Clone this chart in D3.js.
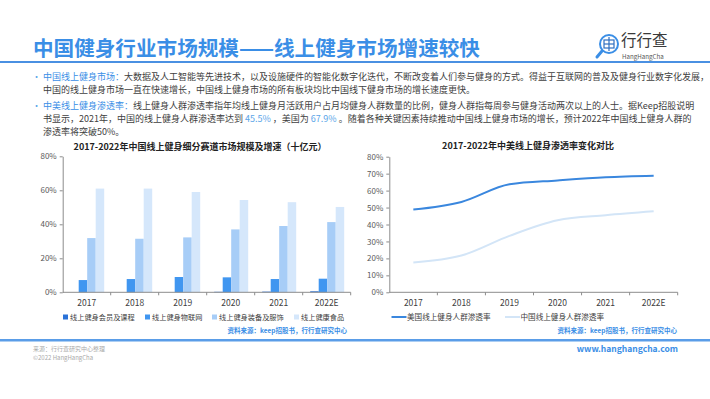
<!DOCTYPE html>
<html>
<head>
<meta charset="utf-8">
<script src="https://cdn.jsdelivr.net/npm/d3@7"></script>
<style>
  body { margin: 0; background: #fff; }
  svg { font-family: "Noto Sans CJK SC", "Noto Sans", sans-serif; }
</style>
</head>
<body>
<script>
// 数据
const years = ["2017", "2018", "2019", "2020", "2021", "2022E"];
const seriesNames = ["线上健身会员及课程", "线上健身物联网", "线上健身装备及服饰", "线上健康食品"];
const memberCourse = [0, 0, 0, 0.3, 0.4, 0.6];
const iot = [7.2, 7.8, 9.0, 8.8, 7.8, 8.0];
const equipment = [31.9, 31.5, 32.3, 37.0, 39.0, 41.3];
const food = [61.0, 61.0, 59.0, 54.3, 53.0, 50.2];
const barTicks = [0, 20, 40, 60, 80];

const lineNames = ["美国线上健身人群渗透率", "中国线上健身人群渗透率"];
const usRate = [48.8, 53.3, 63.7, 66.0, 67.9, 68.8];
const cnRate = [17.6, 21.7, 33.3, 42.5, 45.5, 47.8];
const lineTicks = [0, 10, 20, 30, 40, 50, 60, 70, 80];

const width = 710, height = 399;
const blue = "#3a8ee6";
const textDark = "#404040";
const axisColor = "#8c8c8c";

const svg = d3.select("body").append("svg")
  .attr("width", width).attr("height", height);

svg.append("rect").attr("width", width).attr("height", height).attr("fill", "#fff");

// 标题
svg.append("text")
  .attr("x", 33).attr("y", 56)
  .attr("font-size", 20.6).attr("font-weight", "bold").attr("fill", blue)
  .text("中国健身行业市场规模——线上健身市场增速较快");

svg.append("rect").attr("x", 0).attr("y", 61).attr("width", width).attr("height", 2).attr("fill", "#4a90e2");

// logo
const logo = svg.append("g");
logo.append("circle").attr("cx", 609).attr("cy", 44).attr("r", 9)
  .attr("fill", "none").attr("stroke", blue).attr("stroke-width", 2);
logo.append("line").attr("x1", 602).attr("y1", 51).attr("x2", 597).attr("y2", 57)
  .attr("stroke", blue).attr("stroke-width", 3).attr("stroke-linecap", "round");
logo.append("rect").attr("x", 604).attr("y", 40).attr("width", 10).attr("height", 8)
  .attr("fill", "none").attr("stroke", "#2f6fc0").attr("stroke-width", 1.2);
logo.append("line").attr("x1", 609).attr("y1", 37).attr("x2", 609).attr("y2", 51)
  .attr("stroke", "#2f6fc0").attr("stroke-width", 1.2);
logo.append("line").attr("x1", 604).attr("y1", 44).attr("x2", 614).attr("y2", 44)
  .attr("stroke", "#2f6fc0").attr("stroke-width", 1.2);
logo.append("text").attr("x", 621).attr("y", 46)
  .attr("font-size", 15.5).attr("fill", "#3a3a3a").text("行行查");
logo.append("text").attr("x", 622).attr("y", 59)
  .attr("font-size", 6.2).attr("fill", "#555").text("HangHangCha");

// 文字说明
const paragraphs = [
  { y: 80, parts: [["中国线上健身市场：", blue], ["大数据及人工智能等先进技术，以及设施硬件的智能化数字化迭代，不断改变着人们参与健身的方式。得益于互联网的普及及健身行业数字化发展，", textDark]], bullet: true },
  { y: 93, parts: [["中国的线上健身市场一直在快速增长，中国线上健身市场的所有板块均比中国线下健身市场的增长速度更快。", textDark]] },
  { y: 109, parts: [["中美线上健身渗透率：", blue], ["线上健身人群渗透率指年均线上健身月活跃用户占月均健身人群数量的比例，健身人群指每周参与健身活动两次以上的人士。据Keep招股说明", textDark]], bullet: true },
  { y: 122, parts: [["书显示，2021年，中国的线上健身人群渗透率达到 ", textDark], ["45.5%", "#5aa5e8"], [" ，美国为 ", textDark], ["67.9%", "#5aa5e8"], [" 。随着各种关键因素持续推动中国线上健身市场的增长，预计2022年中国线上健身人群的", textDark]] },
  { y: 135, parts: [["渗透率将突破50%。", textDark]] }
];

paragraphs.forEach(p => {
  if (p.bullet) {
    svg.append("text").attr("x", 32).attr("y", p.y)
      .attr("font-size", 9).attr("fill", "#5aa5e8").text("•");
  }
  const t = svg.append("text").attr("x", 43).attr("y", p.y).attr("font-size", 9);
  p.parts.forEach(([s, c]) => t.append("tspan").attr("fill", c).text(s));
});

// ---------- 左图：柱状图 ----------
const left = svg.append("g");
left.append("text")
  .attr("x", 200).attr("y", 150).attr("text-anchor", "middle")
  .attr("font-size", 9).attr("font-weight", "bold").attr("fill", "#222")
  .text("2017-2022年中国线上健身细分赛道市场规模及增速（十亿元）");

const xBar = d3.scaleBand().domain(years).range([62.7, 350.7]);
const xSub = d3.scaleBand().domain(seriesNames).range([7.5, 41.5]);
const yBar = d3.scaleLinear().domain([0, 80]).range([292.3, 156.3]);
const barColors = d3.scaleOrdinal().domain(seriesNames)
  .range(["#2a72d8", "#4096f0", "#a7cdf7", "#d5e7fb"]);

const barSeries = [memberCourse, iot, equipment, food];
const barData = [];
years.forEach((yr, i) => {
  seriesNames.forEach((name, j) => {
    barData.push({ year: yr, name: name, value: barSeries[j][i] });
  });
});

left.selectAll("rect.bar")
  .data(barData)
  .enter()
  .append("rect")
  .attr("class", "bar")
  .attr("x", d => xBar(d.year) + xSub(d.name))
  .attr("width", xSub.bandwidth())
  .attr("y", d => yBar(d.value))
  .attr("height", d => yBar(0) - yBar(d.value))
  .attr("fill", d => barColors(d.name));

left.append("g")
  .attr("transform", `translate(${xBar.range()[0]},0)`)
  .call(d3.axisLeft(yBar).tickValues(barTicks).tickFormat(d => d + "%").tickSize(3).tickSizeOuter(0));

// x 轴
const xAxisL = left.append("g");
xAxisL.append("line")
  .attr("x1", xBar.range()[0]).attr("x2", xBar.range()[1])
  .attr("y1", yBar(0)).attr("y2", yBar(0));
xAxisL.selectAll("line.tick")
  .data(years)
  .enter()
  .append("line")
  .attr("class", "tick")
  .attr("x1", d => xBar(d) + xBar.bandwidth()).attr("x2", d => xBar(d) + xBar.bandwidth())
  .attr("y1", yBar(0)).attr("y2", yBar(0) + 3);
xAxisL.selectAll("line").attr("stroke", axisColor).attr("stroke-width", 1);
xAxisL.selectAll("text")
  .data(years)
  .enter()
  .append("text")
  .attr("x", d => xBar(d) + xBar.bandwidth() / 2)
  .attr("y", 306)
  .attr("text-anchor", "middle")
  .attr("font-size", 8.5).attr("fill", textDark)
  .text(d => d);

// 图例
const legendXL = [63, 145, 212, 294];
const legL = left.selectAll("g.leg")
  .data(seriesNames)
  .enter()
  .append("g")
  .attr("class", "leg")
  .attr("transform", (d, i) => `translate(${legendXL[i]},317)`);
legL.append("rect").attr("x", 0).attr("y", -2.5).attr("width", 5).attr("height", 5)
  .attr("fill", d => barColors(d));
legL.append("text").attr("x", 7).attr("y", 2.6)
  .attr("font-size", 7.2).attr("fill", textDark).text(d => d);

left.append("text")
  .attr("x", 347).attr("y", 333).attr("text-anchor", "end")
  .attr("font-size", 6.5).attr("font-weight", "bold").attr("fill", blue)
  .text("资料来源：keep招股书，行行查研究中心");

// ---------- 右图：折线图 ----------
const right = svg.append("g");
right.append("text")
  .attr("x", 528).attr("y", 149).attr("text-anchor", "middle")
  .attr("font-size", 9).attr("font-weight", "bold").attr("fill", "#222")
  .text("2017-2022年中美线上健身渗透率变化对比");

const xLine = d3.scaleBand().domain(years).range([389.3, 677.7]);
const yLine = d3.scaleLinear().domain([0, 80]).range([292.3, 156.7]);
const lineColors = d3.scaleOrdinal().domain(lineNames).range(["#3a87de", "#d3e5f7"]);

right.append("g")
  .attr("transform", `translate(${xLine.range()[0]},0)`)
  .call(d3.axisLeft(yLine).tickValues(lineTicks).tickFormat(d => d + "%").tickSize(3).tickSizeOuter(0));

const xAxisR = right.append("g");
xAxisR.append("line")
  .attr("x1", xLine.range()[0]).attr("x2", xLine.range()[1])
  .attr("y1", yLine(0)).attr("y2", yLine(0));
xAxisR.selectAll("line.tick")
  .data(years)
  .enter()
  .append("line")
  .attr("class", "tick")
  .attr("x1", d => xLine(d) + xLine.bandwidth()).attr("x2", d => xLine(d) + xLine.bandwidth())
  .attr("y1", yLine(0)).attr("y2", yLine(0) + 3);
xAxisR.selectAll("line").attr("stroke", axisColor).attr("stroke-width", 1);
xAxisR.selectAll("text")
  .data(years)
  .enter()
  .append("text")
  .attr("x", d => xLine(d) + xLine.bandwidth() / 2)
  .attr("y", 306)
  .attr("text-anchor", "middle")
  .attr("font-size", 8.5).attr("fill", textDark)
  .text(d => d);

const lineGen = d3.line()
  .x((d, i) => xLine(years[i]) + xLine.bandwidth() / 2)
  .y(d => yLine(d))
  .curve(d3.curveMonotoneX);

[cnRate, usRate].forEach((serie, k) => {
  const name = k === 0 ? lineNames[1] : lineNames[0];
  right.append("path")
    .datum(serie)
    .attr("d", lineGen)
    .attr("fill", "none")
    .attr("stroke", lineColors(name))
    .attr("stroke-width", 2);
});

const legendXR = [391.5, 505];
const legR = right.selectAll("g.leg")
  .data(lineNames)
  .enter()
  .append("g")
  .attr("class", "leg")
  .attr("transform", (d, i) => `translate(${legendXR[i]},317)`);
legR.append("line").attr("x1", 0).attr("x2", 15).attr("y1", 0).attr("y2", 0)
  .attr("stroke", d => lineColors(d)).attr("stroke-width", 2);
legR.append("text").attr("x", 15.5).attr("y", 2.7)
  .attr("font-size", 7.6).attr("fill", textDark).text(d => d);

right.append("text")
  .attr("x", 677).attr("y", 333).attr("text-anchor", "end")
  .attr("font-size", 6.5).attr("font-weight", "bold").attr("fill", blue)
  .text("资料来源：keep招股书，行行查研究中心");

// 坐标轴样式
svg.selectAll(".domain").attr("stroke", axisColor);
svg.selectAll(".tick line").attr("stroke", axisColor);
svg.selectAll(".tick text").attr("font-size", 8).attr("fill", "#595959")
  .attr("font-family", "\"Noto Sans CJK SC\", sans-serif");

// 底部
svg.append("rect").attr("x", 0).attr("y", 339).attr("width", width).attr("height", 2.5).attr("fill", "#5a9de8");
svg.append("text").attr("x", 33).attr("y", 351)
  .attr("font-size", 6).attr("fill", "#aaa").text("来源：行行查研究中心整理");
svg.append("text").attr("x", 33).attr("y", 360)
  .attr("font-size", 6).attr("fill", "#aaa").text("©2022 HangHangCha");
svg.append("text").attr("x", 678).attr("y", 352).attr("text-anchor", "end")
  .attr("font-size", 8.5).attr("font-weight", "bold").attr("fill", blue)
  .text("www.hanghangcha.com");
</script>
</body>
</html>
